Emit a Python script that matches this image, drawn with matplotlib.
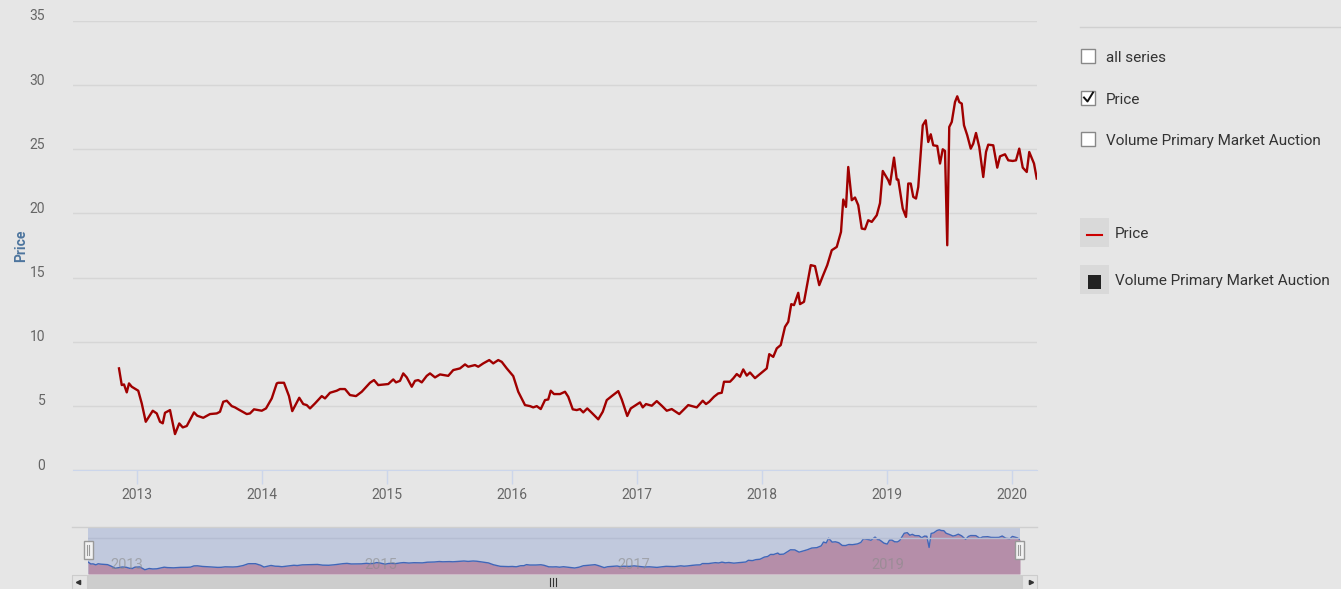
import numpy as np
import matplotlib.pyplot as plt
from matplotlib.patches import Rectangle
from matplotlib.transforms import ScaledTranslation

# price series, x in decimal years
years = [2012.856, 2012.878, 2012.896, 2012.918, 2012.936, 2012.958, 2013.010, 2013.038, 2013.070, 2013.126,
         2013.158, 2013.184, 2013.206, 2013.224, 2013.264, 2013.304, 2013.338, 2013.366, 2013.398, 2013.456,
         2013.482, 2013.530, 2013.584, 2013.638, 2013.664, 2013.690, 2013.718, 2013.758, 2013.784, 2013.810,
         2013.878, 2013.904, 2013.936, 2013.998, 2014.032, 2014.078, 2014.118, 2014.130, 2014.176, 2014.198,
         2014.216, 2014.242, 2014.272, 2014.298, 2014.330, 2014.358, 2014.384, 2014.424, 2014.478, 2014.504,
         2014.544, 2014.598, 2014.624, 2014.664, 2014.704, 2014.752, 2014.798, 2014.864, 2014.896, 2014.930,
         2015.010, 2015.050, 2015.072, 2015.104, 2015.130, 2015.158, 2015.198, 2015.224, 2015.250, 2015.278,
         2015.318, 2015.344, 2015.384, 2015.424, 2015.490, 2015.530, 2015.584, 2015.624, 2015.650, 2015.704,
         2015.730, 2015.770, 2015.818, 2015.850, 2015.890, 2015.918, 2015.958, 2016.010, 2016.050, 2016.104,
         2016.144, 2016.170, 2016.198, 2016.230, 2016.264, 2016.290, 2016.310, 2016.336, 2016.384, 2016.424,
         2016.450, 2016.486, 2016.518, 2016.544, 2016.570, 2016.602, 2016.638, 2016.690, 2016.726, 2016.758,
         2016.798, 2016.850, 2016.878, 2016.922, 2016.950, 2017.024, 2017.046, 2017.072, 2017.118, 2017.158,
         2017.198, 2017.238, 2017.278, 2017.338, 2017.410, 2017.478, 2017.526, 2017.552, 2017.578, 2017.616,
         2017.650, 2017.678, 2017.696, 2017.744, 2017.770, 2017.798, 2017.824, 2017.850, 2017.878, 2017.904,
         2017.944, 2018.038, 2018.058, 2018.090, 2018.118, 2018.150, 2018.184, 2018.210, 2018.234, 2018.256,
         2018.290, 2018.304, 2018.336, 2018.390, 2018.424, 2018.458, 2018.486, 2018.522, 2018.558, 2018.598,
         2018.632, 2018.650, 2018.672, 2018.690, 2018.718, 2018.744, 2018.770, 2018.798, 2018.824, 2018.850,
         2018.878, 2018.918, 2018.944, 2018.966, 2019.010, 2019.024, 2019.056, 2019.078, 2019.090, 2019.126,
         2019.152, 2019.170, 2019.190, 2019.210, 2019.232, 2019.250, 2019.286, 2019.310, 2019.330, 2019.350,
         2019.370, 2019.402, 2019.424, 2019.446, 2019.464, 2019.482, 2019.498, 2019.518, 2019.544, 2019.562,
         2019.578, 2019.598, 2019.616, 2019.642, 2019.670, 2019.690, 2019.712, 2019.738, 2019.770, 2019.792,
         2019.810, 2019.850, 2019.882, 2019.904, 2019.944, 2019.970, 2020.006, 2020.032, 2020.058, 2020.086,
         2020.118, 2020.138, 2020.176, 2020.198]
price = [7.92, 6.62, 6.67, 6.05, 6.75, 6.49, 6.18, 5.19, 3.76, 4.62,
         4.41, 3.76, 3.64, 4.46, 4.67, 2.80, 3.63, 3.32, 3.43, 4.49,
         4.23, 4.07, 4.36, 4.41, 4.54, 5.32, 5.40, 4.98, 4.88, 4.73,
         4.36, 4.41, 4.73, 4.62, 4.80, 5.58, 6.75, 6.80, 6.80, 6.23,
         5.76, 4.59, 5.14, 5.63, 5.14, 5.06, 4.80, 5.19, 5.76, 5.58,
         6.02, 6.18, 6.31, 6.31, 5.84, 5.76, 6.10, 6.80, 7.01, 6.62,
         6.70, 7.06, 6.83, 6.95, 7.53, 7.22, 6.49, 6.95, 7.01, 6.83,
         7.34, 7.53, 7.22, 7.45, 7.34, 7.79, 7.92, 8.23, 8.05, 8.18,
         8.05, 8.31, 8.57, 8.31, 8.57, 8.43, 7.92, 7.32, 6.10, 5.06,
         4.98, 4.88, 4.98, 4.75, 5.45, 5.50, 6.18, 5.92, 5.92, 6.10,
         5.71, 4.73, 4.67, 4.75, 4.49, 4.80, 4.46, 3.95, 4.54, 5.45,
         5.76, 6.15, 5.50, 4.21, 4.80, 5.27, 4.88, 5.14, 5.01, 5.37,
         5.01, 4.62, 4.75, 4.36, 5.06, 4.88, 5.40, 5.14, 5.32, 5.71,
         5.97, 6.02, 6.88, 6.88, 7.14, 7.48, 7.27, 7.84, 7.36, 7.60,
         7.16, 7.92, 9.03, 8.82, 9.48, 9.74, 11.16, 11.55, 12.93, 12.85,
         13.81, 12.93, 13.11, 15.97, 15.89, 14.41, 15.11, 15.97, 17.13, 17.39,
         18.56, 21.08, 20.51, 23.62, 21.03, 21.24, 20.64, 18.82, 18.77, 19.47,
         19.34, 19.86, 20.80, 23.31, 22.59, 22.25, 24.35, 22.64, 22.64, 20.38,
         19.73, 22.33, 22.33, 21.29, 21.16, 22.06, 26.87, 27.26, 25.57, 26.17,
         25.31, 25.26, 23.89, 25.00, 24.87, 17.52, 26.74, 27.13, 28.68, 29.13,
         28.68, 28.56, 26.87, 26.09, 25.05, 25.44, 26.27, 25.18, 22.84, 24.79,
         25.36, 25.31, 23.57, 24.45, 24.61, 24.14, 24.09, 24.14, 25.05, 23.57,
         23.23, 24.79, 23.89, 22.72]

year_ticks = [2013, 2014, 2015, 2016, 2017, 2018, 2019, 2020]
price_ticks = [0, 5, 10, 15, 20, 25, 30, 35]
nav_labels = [2013, 2015, 2017, 2019]
checkbox_items = ["all series", "Price", "Volume Primary Market Auction"]
checked = [False, True, False]
legend_items = ["Price", "Volume Primary Market Auction"]

W, H = 1341, 589
BG = '#e6e6e6'
plt.rcParams['font.family'] = ['Roboto', 'DejaVu Sans']

fig = plt.figure(figsize=(W / 100, H / 100), dpi=100, facecolor=BG)

# main chart
ax = fig.add_axes([73 / W, 1 - 470 / H, (1037 - 73) / W, (470 - 21) / H])
ax.set_facecolor(BG)
ax.plot(years, price, color='#a00000', lw=1.7, zorder=3)
ax.set_xlim(2012.488, 2020.2)
ax.set_ylim(0, 35)
ax.set_yticks(price_ticks)
ax.set_xticks(year_ticks)
ax.set_xticklabels([str(y) for y in year_ticks])
ax.grid(axis='y', color='#d6d6d6', lw=1)
for s in ['top', 'right', 'left']:
    ax.spines[s].set_visible(False)
ax.spines['bottom'].set_color('#ccd6eb')
ax.tick_params(axis='y', length=0, pad=20, labelsize=10, labelcolor='#666666')
ax.tick_params(axis='x', length=10, width=1, color='#ccd6eb', pad=3, labelsize=10, labelcolor='#666666')
off = ScaledTranslation(0, 0.06, fig.dpi_scale_trans)
for lbl in ax.get_yticklabels():
    lbl.set_transform(lbl.get_transform() + off)
ax.set_ylabel("Price", color='#4d759e', fontweight='bold', fontsize=10)
ax.yaxis.set_label_coords(-0.047, 0.5)

# navigator
nav = fig.add_axes([88 / W, 1 - 574 / H, (1020 - 88) / W, (574 - 527) / H])
nav.set_facecolor('#c1c9dd')
nav.fill_between(years, price, 0, color='#b58ea9', lw=0)
nav.plot(years, price, color='#4166b8', lw=1)
nav.set_xlim(min(years), max(years))
nav.set_ylim(0, 31)
nav.plot([0, 1], [0.77, 0.77], transform=nav.transAxes, color='#b5bdd2', lw=1)
nav.set_xticks([])
nav.set_yticks([])
for s in nav.spines.values():
    s.set_visible(False)
for y in nav_labels:
    nav.text(y + 0.03, 0.2, str(y), ha='left', va='center', fontsize=10.5, color='#8a8a8a', alpha=0.6,
             transform=nav.get_xaxis_transform())

# overlay for UI bits (pixel coordinates)
ov = fig.add_axes([0, 0, 1, 1], zorder=5)
ov.set_xlim(0, W)
ov.set_ylim(H, 0)
ov.axis('off')
ov.patch.set_alpha(0)

ov.plot([72, 1037], [527, 527], color='#cfcfcf', lw=1)
# navigator handles
for hx in [84, 1015]:
    ov.add_patch(Rectangle((hx, 541), 9, 18, facecolor='#f2f2f2', edgecolor='#999999', lw=1))
    ov.plot([hx + 3.5, hx + 3.5], [545, 555], color='#999999', lw=0.8)
    ov.plot([hx + 5.5, hx + 5.5], [545, 555], color='#999999', lw=0.8)
# scrollbar
ov.add_patch(Rectangle((72, 575), 965, 14, facecolor='#cdcdcd', lw=0))
ov.add_patch(Rectangle((72, 575), 15, 14, facecolor='#e4e4e4', edgecolor='#cccccc', lw=0.8))
ov.add_patch(Rectangle((1022, 575), 15, 14, facecolor='#e4e4e4', edgecolor='#cccccc', lw=0.8))
ov.plot([78], [582], marker='<', color='#333333', ms=3)
ov.plot([1031], [582], marker='>', color='#333333', ms=3)
for dx in [-3, 0, 3]:
    ov.plot([553 + dx, 553 + dx], [578, 586], color='#333333', lw=0.8)

# right side panel
ov.plot([1080, 1341], [27, 27], color='#d0d0d0', lw=1)
for i, (name, chk) in enumerate(zip(checkbox_items, checked)):
    cy = 56 + i * 41.5
    ov.add_patch(Rectangle((1081, cy - 7), 14, 14, facecolor='white', edgecolor='#888888', lw=1))
    if chk:
        ov.plot([1084, 1087.5, 1093], [cy, cy + 4, cy - 5], color='#111111', lw=1.4)
    ov.text(1106, cy + 2, name, ha='left', va='center', fontsize=11, color='#333333')

for i, name in enumerate(legend_items):
    cy = 233 + i * 47
    ov.add_patch(Rectangle((1080, cy - 15), 29, 29, facecolor='#d9d9d9', lw=0))
    if i == 0:
        ov.plot([1087, 1102], [cy + 2, cy + 2], color='#cc0000', lw=1.5)
    else:
        ov.add_patch(Rectangle((1088, cy - 5), 13, 14, facecolor='#222222', lw=0))
    ov.text(1115, cy + 1, name, ha='left', va='center', fontsize=11, color='#333333')

fig.savefig('out.png', dpi=100, facecolor=BG)
